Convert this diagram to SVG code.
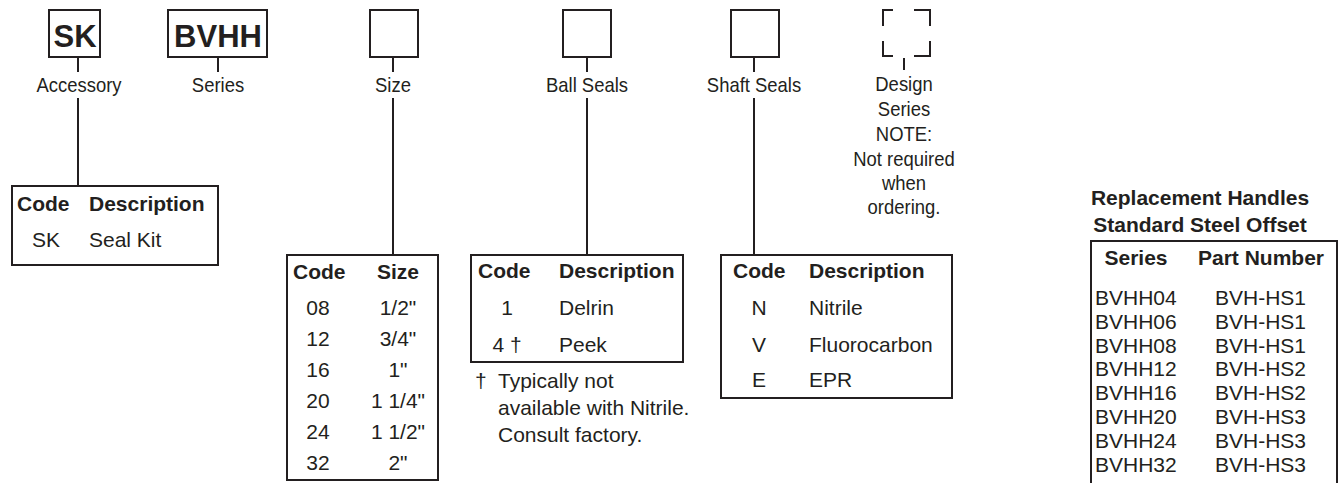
<svg xmlns="http://www.w3.org/2000/svg" width="1343" height="483" viewBox="0 0 1343 483">
<style>
text{font-family:"Liberation Sans",Arial,sans-serif;fill:#231f20}
.big{font-size:31px;font-weight:bold;text-anchor:middle}
.lbl{font-size:20.5px;text-anchor:middle}
.h{font-size:21px;font-weight:bold}
.t{font-size:21px}
.c{text-anchor:middle}
.box{fill:none;stroke:#231f20;stroke-width:2}
.ln{stroke:#231f20;stroke-width:2;fill:none}
</style>
<rect width="1343" height="483" fill="#fff"/>
<g id="connectors">
<line class="ln" x1="78" y1="57" x2="78" y2="72"/>
<line class="ln" x1="78" y1="98" x2="78" y2="186"/>
<line class="ln" x1="218" y1="57" x2="218" y2="72"/>
<line class="ln" x1="393" y1="57" x2="393" y2="72"/>
<line class="ln" x1="393" y1="98" x2="393" y2="255"/>
<line class="ln" x1="587" y1="57" x2="587" y2="72"/>
<line class="ln" x1="587" y1="98" x2="587" y2="255"/>
<line class="ln" x1="754" y1="57" x2="754" y2="72"/>
<line class="ln" x1="754" y1="98" x2="754" y2="255"/>
<line class="ln" x1="904" y1="58" x2="904" y2="70"/>
</g>
<g id="accessory">
<rect class="box" x="49" y="10" width="51" height="47"/>
<text class="big" x="75" y="47">SK</text>
<text class="lbl" transform="translate(79 92) scale(0.9 1)">Accessory</text>
</g>
<g id="series">
<rect class="box" x="168" y="10" width="99" height="47"/>
<text class="big" x="218" y="47">BVHH</text>
<text class="lbl" transform="translate(218 92) scale(0.9 1)">Series</text>
</g>
<g id="size">
<rect class="box" x="370" y="10" width="48" height="47"/>
<text class="lbl" transform="translate(393 92) scale(0.9 1)">Size</text>
</g>
<g id="ball-seals">
<rect class="box" x="563" y="10" width="48" height="47"/>
<text class="lbl" transform="translate(587 92) scale(0.9 1)">Ball Seals</text>
</g>
<g id="shaft-seals">
<rect class="box" x="731" y="10" width="48" height="47"/>
<text class="lbl" transform="translate(754 92) scale(0.9 1)">Shaft Seals</text>
</g>
<g id="design-series">
<path class="ln" d="M883 26V10H893M914 10H930V26M883 41V56H893M914 56H930V41"/>
<text class="lbl" transform="translate(904 91) scale(0.9 1)">Design</text>
<text class="lbl" transform="translate(904 116) scale(0.9 1)">Series</text>
<text class="lbl" transform="translate(904 141) scale(0.9 1)">NOTE:</text>
<text class="lbl" transform="translate(904 166) scale(0.9 1)">Not required</text>
<text class="lbl" transform="translate(904 190) scale(0.9 1)">when</text>
<text class="lbl" transform="translate(904 214) scale(0.9 1)">ordering.</text>
</g>
<g id="accessory-table">
<rect class="box" x="12" y="186" width="206" height="79"/>
<text class="h" x="17" y="211">Code</text>
<text class="h" x="89" y="211">Description</text>
<text class="t" x="32" y="247">SK</text>
<text class="t" x="89" y="247">Seal Kit</text>
</g>
<g id="size-table">
<rect class="box" x="287" y="255" width="151" height="225"/>
<text class="h" x="293" y="279">Code</text>
<text class="h c" x="398" y="279">Size</text>
<text class="t c" x="318" y="315">08</text><text class="t c" x="398" y="315">1/2"</text>
<text class="t c" x="318" y="346">12</text><text class="t c" x="398" y="346">3/4"</text>
<text class="t c" x="318" y="377">16</text><text class="t c" x="398" y="377">1"</text>
<text class="t c" x="318" y="408">20</text><text class="t c" x="398" y="408">1 1/4"</text>
<text class="t c" x="318" y="439">24</text><text class="t c" x="398" y="439">1 1/2"</text>
<text class="t c" x="318" y="470">32</text><text class="t c" x="398" y="470">2"</text>
</g>
<g id="ball-seals-table">
<rect class="box" x="471" y="255" width="212" height="107"/>
<text class="h" x="478" y="278">Code</text>
<text class="h" x="559" y="278">Description</text>
<text class="t c" x="507" y="315">1</text><text class="t" x="559" y="315">Delrin</text>
<text class="t c" x="507" y="352">4 †</text><text class="t" x="559" y="352">Peek</text>
<text class="t" x="475" y="388">†</text>
<text class="t" x="498" y="388">Typically not</text>
<text class="t" x="498" y="415">available with Nitrile.</text>
<text class="t" x="498" y="442">Consult factory.</text>
</g>
<g id="shaft-seals-table">
<rect class="box" x="721" y="255" width="231" height="143"/>
<text class="h" x="733" y="278">Code</text>
<text class="h" x="809" y="278">Description</text>
<text class="t c" x="759" y="315">N</text><text class="t" x="809" y="315">Nitrile</text>
<text class="t c" x="759" y="352">V</text><text class="t" x="809" y="352">Fluorocarbon</text>
<text class="t c" x="759" y="387">E</text><text class="t" x="809" y="387">EPR</text>
</g>
<g id="replacement-handles">
<text class="h c" x="1200" y="205">Replacement Handles</text>
<text class="h c" x="1200" y="232">Standard Steel Offset</text>
<rect class="box" x="1091" y="241" width="246" height="260"/>
<text class="h c" x="1136" y="265">Series</text>
<text class="h c" x="1261" y="265">Part Number</text>
<text class="t" x="1095" y="305">BVHH04</text><text class="t" x="1215" y="305">BVH-HS1</text>
<text class="t" x="1095" y="328.8">BVHH06</text><text class="t" x="1215" y="328.8">BVH-HS1</text>
<text class="t" x="1095" y="352.6">BVHH08</text><text class="t" x="1215" y="352.6">BVH-HS1</text>
<text class="t" x="1095" y="376.4">BVHH12</text><text class="t" x="1215" y="376.4">BVH-HS2</text>
<text class="t" x="1095" y="400.2">BVHH16</text><text class="t" x="1215" y="400.2">BVH-HS2</text>
<text class="t" x="1095" y="424">BVHH20</text><text class="t" x="1215" y="424">BVH-HS3</text>
<text class="t" x="1095" y="447.8">BVHH24</text><text class="t" x="1215" y="447.8">BVH-HS3</text>
<text class="t" x="1095" y="471.6">BVHH32</text><text class="t" x="1215" y="471.6">BVH-HS3</text>
</g>
</svg>
